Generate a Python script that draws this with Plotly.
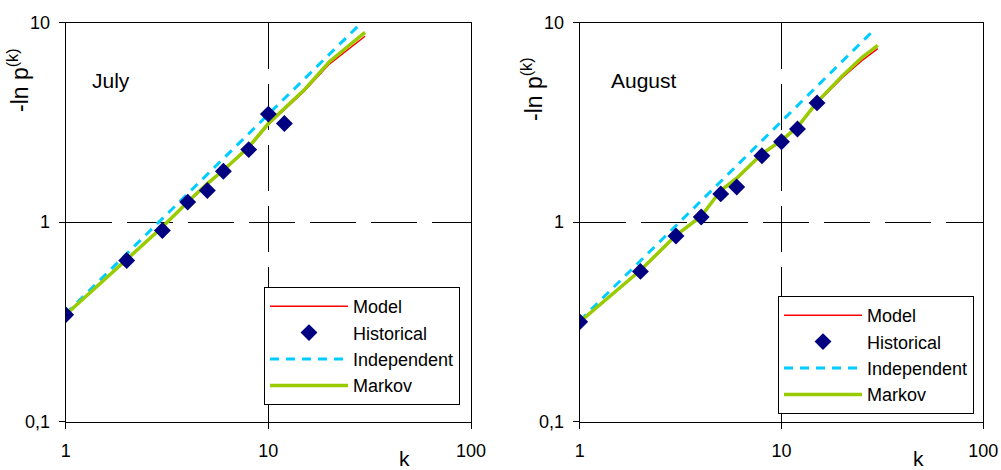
import plotly.graph_objects as go

# ---------------- data ----------------
k_line = [1, 2, 3, 4, 5, 6, 8, 10, 12, 15, 20, 25, 30]
k_ind = [1, 2, 3, 4, 5, 6, 8, 10, 12, 15, 20, 25, 28]

k_hist_jul = [1, 2, 3, 4, 5, 6, 8, 10, 12]
hist_jul = [0.343, 0.642, 0.908, 1.26, 1.44, 1.80, 2.31, 3.48, 3.12]
model_jul = [0.343, 0.645, 0.940, 1.25, 1.55, 1.81, 2.35, 3.08, 3.66, 4.52, 6.20, 7.40, 8.55]
markov_jul = [0.343, 0.647, 0.944, 1.26, 1.56, 1.82, 2.38, 3.12, 3.70, 4.59, 6.37, 7.73, 8.95]
indep_jul = [0.347, 0.694, 1.04, 1.39, 1.74, 2.08, 2.78, 3.47, 4.16, 5.20, 6.94, 8.68, 9.72]

k_hist_aug = [1, 2, 3, 4, 5, 6, 8, 10, 12, 15]
hist_aug = [0.316, 0.566, 0.851, 1.06, 1.385, 1.50, 2.15, 2.53, 2.93, 3.96]
model_aug = [0.316, 0.570, 0.850, 1.07, 1.43, 1.64, 2.18, 2.54, 2.97, 3.96, 5.30, 6.45, 7.42]
markov_aug = [0.316, 0.573, 0.858, 1.07, 1.44, 1.66, 2.20, 2.57, 3.00, 4.00, 5.41, 6.68, 7.70]
indep_aug = [0.320, 0.640, 0.960, 1.28, 1.60, 1.92, 2.56, 3.20, 3.84, 4.80, 6.40, 8.00, 8.96]

x_tickvals = [1, 10, 100]
x_ticktext = ["1", "10", "100"]
y_tickvals = [0.1, 1, 10]
y_ticktext = ["0,1", "1", "10"]

panels = [
    ("July", k_hist_jul, hist_jul, model_jul, markov_jul, indep_jul),
    ("August", k_hist_aug, hist_aug, model_aug, markov_aug, indep_aug),
]

FONT = "Liberation Sans, Arial, sans-serif"
RED = "#FF0000"
NAVY = "#000080"
CYAN = "#00CCFF"
GREEN = "#99CC00"

fig = go.Figure()

for i, (name, kh, hv, mv, mk, ind) in enumerate(panels):
    xa = "x" if i == 0 else "x2"
    ya = "y" if i == 0 else "y2"
    lg = "legend" if i == 0 else "legend2"
    fig.add_trace(go.Scatter(x=k_ind, y=ind, mode="lines", name="Independent",
                             line=dict(color=CYAN, width=3, dash="9px,7px"),
                             xaxis=xa, yaxis=ya, legend=lg, legendrank=3))
    fig.add_trace(go.Scatter(x=k_line, y=mv, mode="lines", name="Model",
                             line=dict(color=RED, width=1.5),
                             xaxis=xa, yaxis=ya, legend=lg, legendrank=1))
    fig.add_trace(go.Scatter(x=k_line, y=mk, mode="lines", name="Markov",
                             line=dict(color=GREEN, width=3.5),
                             xaxis=xa, yaxis=ya, legend=lg, legendrank=4))
    fig.add_trace(go.Scatter(x=kh, y=hv, mode="markers", name="Historical",
                             marker=dict(symbol="diamond", size=13, color=NAVY,
                                         line=dict(width=0)),
                             xaxis=xa, yaxis=ya, legend=lg, legendrank=2))

W, H = 1001, 470
top_px, bot_px = 22.7, 421.5
ydom = [1 - bot_px / H, 1 - top_px / H]
xdoms = [[65.7 / W, 471.0 / W], [579.7 / W, 983.3 / W]]

common_x = dict(type="log", range=[0, 2], tickvals=x_tickvals, ticktext=x_ticktext,
                showline=True, linecolor="black", linewidth=1, mirror=True,
                ticks="outside", ticklen=6, tickcolor="black",
                showgrid=True, gridcolor="black", gridwidth=1, griddash="46px,15px",
                tickfont=dict(family=FONT, size=18, color="black"),
                ticklabelstandoff=7, automargin=False, zeroline=False)
common_y = dict(type="log", range=[-1, 1], tickvals=y_tickvals, ticktext=y_ticktext,
                showline=True, linecolor="black", linewidth=1, mirror=True,
                ticks="outside", ticklen=6, tickcolor="black",
                showgrid=True, gridcolor="black", gridwidth=1, griddash="46px,15px",
                tickfont=dict(family=FONT, size=18, color="black"),
                ticklabelstandoff=5, automargin=False, zeroline=False)

legend_common = dict(bgcolor="white", bordercolor="black", borderwidth=1,
                     font=dict(family=FONT, size=18, color="black"),
                     xanchor="right", yanchor="bottom", itemwidth=78,
                     traceorder="normal", tracegroupgap=0, itemclick=False)

ann_font = dict(family=FONT, color="black")
fig.update_layout(
    width=W, height=H,
    template="none",
    margin=dict(l=0, r=0, t=0, b=0),
    paper_bgcolor="white", plot_bgcolor="white",
    font=dict(family=FONT, size=19, color="black"),
    xaxis=dict(domain=xdoms[0], anchor="y", **common_x),
    yaxis=dict(domain=ydom, anchor="x", **common_y),
    xaxis2=dict(domain=xdoms[1], anchor="y2", **common_x),
    yaxis2=dict(domain=ydom, anchor="x2", **common_y),
    legend=dict(x=460 / W, y=1 - 405 / H, **legend_common),
    legend2=dict(x=974 / W, y=1 - 414 / H, **legend_common),
    annotations=[
        dict(text="-ln p<sup>(k)</sup>", x=18 / W, y=1 - 80 / H, xref="paper", yref="paper",
             xanchor="center", yanchor="middle",
             textangle=-90, showarrow=False, font=dict(size=23, **ann_font)),
        dict(text="-ln p<sup>(k)</sup>", x=532 / W, y=1 - 89 / H, xref="paper", yref="paper",
             xanchor="center", yanchor="middle",
             textangle=-90, showarrow=False, font=dict(size=23, **ann_font)),
        dict(text="July", x=90 / W, y=1 - 80 / H, xref="paper", yref="paper",
             xanchor="left", yanchor="middle", showarrow=False, font=dict(size=21, **ann_font)),
        dict(text="August", x=609 / W, y=1 - 81 / H, xref="paper", yref="paper",
             xanchor="left", yanchor="middle", showarrow=False, font=dict(size=21, **ann_font)),
        dict(text="k", x=404 / W, y=1 - 458 / H, xref="paper", yref="paper",
             xanchor="center", yanchor="middle", showarrow=False, font=dict(size=21, **ann_font)),
        dict(text="k", x=918 / W, y=1 - 458 / H, xref="paper", yref="paper",
             xanchor="center", yanchor="middle", showarrow=False, font=dict(size=21, **ann_font)),
    ],
)

fig.write_html("out.html")
